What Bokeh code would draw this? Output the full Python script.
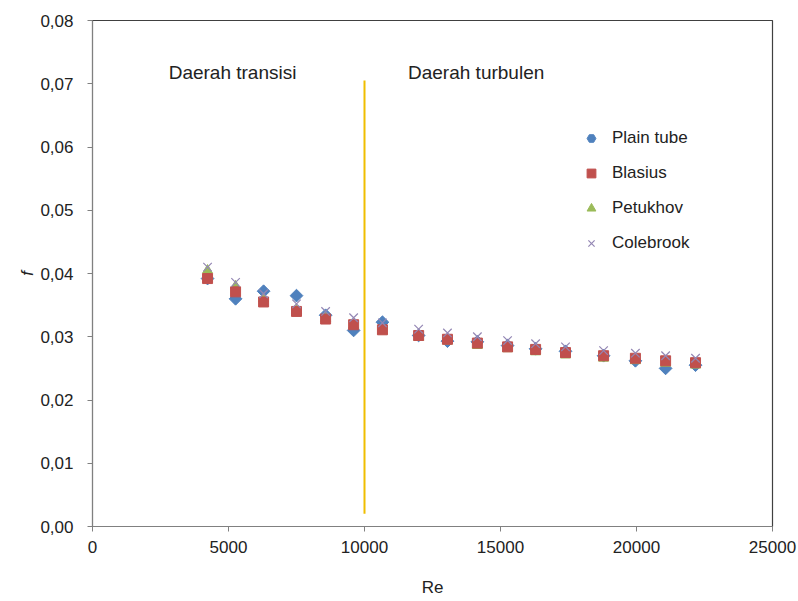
import math
from bokeh.plotting import figure
from bokeh.models import (ColumnDataSource, Legend, LegendItem, CustomJSTickFormatter,
                          FixedTicker, Range1d, Label)
from bokeh.embed import file_html
from bokeh.resources import INLINE

# ---- data ----
re_vals = [4230, 5260, 6290, 7500, 8570, 9600, 10660, 11990, 13050, 14150,
           15260, 16290, 17390, 18790, 19960, 21070, 22170]
plain_tube = [0.0392, 0.0360, 0.0372, 0.0365, 0.0334, 0.0310, 0.0323, 0.0302, 0.0293,
              0.0292, 0.0286, 0.0281, 0.0277, 0.0270, 0.0262, 0.0250, 0.0255]
blasius = [0.0392, 0.0371, 0.0355, 0.0340, 0.0328, 0.0319, 0.0311, 0.0302, 0.0296,
           0.0290, 0.0284, 0.0280, 0.0275, 0.0270, 0.0266, 0.0262, 0.0259]
petukhov = [0.0405, 0.0380, 0.0360, 0.0342, 0.0329, 0.0318, 0.0309, 0.0299, 0.0293,
            0.0286, 0.0281, 0.0276, 0.0271, 0.0266, 0.0262, 0.0258, 0.0255]
colebrook = [0.0410, 0.0386, 0.0368, 0.0352, 0.0340, 0.0330, 0.0322, 0.0312, 0.0306,
             0.0300, 0.0294, 0.0289, 0.0284, 0.0278, 0.0274, 0.0270, 0.0266]
x_ticks = [0, 5000, 10000, 15000, 20000, 25000]
y_ticks = [0.0, 0.01, 0.02, 0.03, 0.04, 0.05, 0.06, 0.07, 0.08]
boundary_re = 10000
boundary_f = [0.002, 0.0705]
region_labels = ["Daerah transisi", "Daerah turbulen"]
region_x = [2800, 11600]
region_y = 0.0718

FONT = "Liberation Sans"
FS = "17px"

p = figure(width=798, height=601, output_backend="svg", toolbar_location=None,
           x_range=Range1d(0, 25000), y_range=Range1d(0, 0.08),
           min_border_left=92, min_border_right=26, min_border_top=20, min_border_bottom=75)
p.grid.visible = False
p.outline_line_color = "#404040"
p.outline_line_width = 1.2
p.background_fill_color = "white"
p.border_fill_color = "white"

for ax in (p.xaxis[0], p.yaxis[0]):
    ax.axis_line_color = "#808080"
    ax.major_tick_line_color = "#808080"
    ax.major_tick_out = 5
    ax.major_tick_in = 0
    ax.minor_tick_out = 0
    ax.minor_tick_in = 0
    ax.major_label_text_font = FONT
    ax.major_label_text_font_size = FS
    ax.major_label_text_color = "#222222"
    ax.axis_label_text_font = FONT
    ax.axis_label_text_font_size = FS
    ax.axis_label_text_font_style = "normal"
    ax.axis_label_text_color = "#222222"

p.xaxis.ticker = FixedTicker(ticks=x_ticks)
p.yaxis.ticker = FixedTicker(ticks=y_ticks)
p.yaxis.formatter = CustomJSTickFormatter(code="return tick.toFixed(2).replace('.', ',');")
p.xaxis.formatter = CustomJSTickFormatter(code="return tick.toFixed(0);")
p.xaxis.axis_label = "Re"
p.yaxis.axis_label = "f"
p.yaxis.axis_label_text_font_style = "italic"
p.xaxis.major_label_standoff = 9
p.yaxis.major_label_standoff = 14
p.xaxis.axis_label_standoff = 22
p.yaxis.axis_label_standoff = 0

src = ColumnDataSource(dict(re=re_vals, pt=plain_tube, bl=blasius, pe=petukhov, co=colebrook))

r_pt = p.scatter("re", "pt", source=src, marker="square", size=9, angle=math.pi / 4,
                 fill_color="#4F81BD", line_color="#4F81BD")
r_pe = p.scatter("re", "pe", source=src, marker="triangle", size=10,
                 fill_color="#9BBB59", line_color="#9BBB59")
r_bl = p.scatter("re", "bl", source=src, marker="square", size=10,
                 fill_color="#C0504D", line_color="#C0504D")
r_co = p.scatter("re", "co", source=src, marker="x", size=12,
                 line_color="#9487B4", line_width=1.2)
# legend-only glyph for the diamond (legend glyphs are never rotated); NaN -> nothing plotted
r_pt_leg = p.scatter(x=[float("nan")], y=[float("nan")], marker="hex",
                     fill_color="#4F81BD", line_color="#4F81BD")

p.segment(x0=[boundary_re], y0=[boundary_f[0]], x1=[boundary_re], y1=[boundary_f[1]],
          line_color="#F0BE00", line_width=2)

for txt, xx in zip(region_labels, region_x):
    p.add_layout(Label(x=xx, y=region_y, text=txt, text_font=FONT, text_font_size="19px",
                       text_color="#222222", text_baseline="middle"))

legend = Legend(items=[
    LegendItem(label="Plain tube", renderers=[r_pt_leg]),
    LegendItem(label="Blasius", renderers=[r_bl]),
    LegendItem(label="Petukhov", renderers=[r_pe]),
    LegendItem(label="Colebrook", renderers=[r_co]),
], location=(488, 271), border_line_color=None, background_fill_alpha=0,
    label_text_font=FONT, label_text_font_size=FS, label_text_color="#222222",
    spacing=11, padding=0, margin=0, label_standoff=10, glyph_width=22, glyph_height=24)
p.add_layout(legend, "center")

open("out.html", "w").write(file_html(p, INLINE))
